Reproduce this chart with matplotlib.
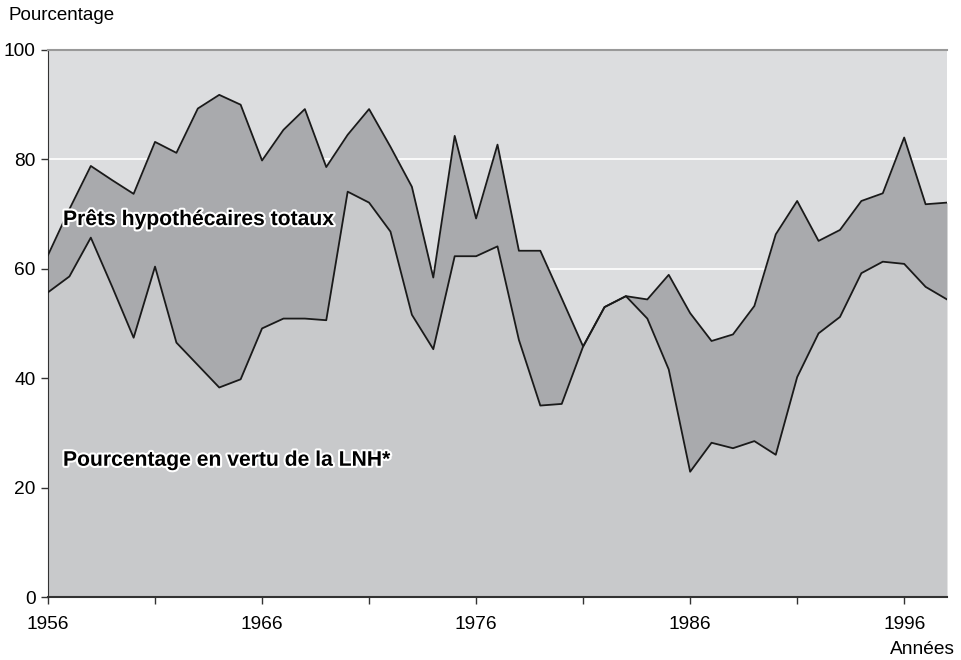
import numpy as np
import matplotlib
matplotlib.use('Agg')
import matplotlib.pyplot as plt
import matplotlib.patheffects as pe

plt.rcParams['font.family'] = ['Liberation Sans', 'DejaVu Sans']

# data
years = list(range(1956, 1999))
total = [62.5, 70.9, 78.8, 76.2, 73.7, 83.2, 81.2, 89.3, 91.8, 90.0,
         79.8, 85.4, 89.2, 78.6, 84.5, 89.2, 82.3, 75.0, 58.4, 84.3,
         69.2, 82.7, 63.3, 63.3, 54.6, 45.8, 53.0, 55.0, 54.4, 58.9,
         51.9, 46.8, 48.0, 53.2, 66.3, 72.4, 65.1, 67.1, 72.4, 73.8,
         84.0, 71.8, 72.1]
lnh = [55.7, 58.6, 65.7, 56.7, 47.4, 60.4, 46.5, 42.4, 38.3, 39.8,
       49.1, 50.9, 50.9, 50.6, 74.1, 72.1, 66.8, 51.6, 45.3, 62.3,
       62.3, 64.1, 47.0, 35.0, 35.3, 45.8, 53.0, 55.0, 50.9, 41.6,
       22.9, 28.2, 27.2, 28.5, 26.0, 40.2, 48.2, 51.2, 59.2, 61.3,
       60.9, 56.7, 54.4]
ytick_vals = [0, 20, 40, 60, 80, 100]
xtick_labels = ['1956', '', '1966', '', '1976', '', '1986', '', '1996']

fig = plt.figure(figsize=(9.62, 6.6), dpi=100)
ax = fig.add_axes([48/962, 1 - 597/660, (947 - 48)/962, (597 - 50)/660])
ax.set_facecolor('#dcdddf')

# white gridlines sit under the fills
for v in ytick_vals[1:-1]:
    ax.axhline(v, color='white', lw=1.2, zorder=1)

ax.fill_between(years, 0, lnh, color='#c8c9cb', lw=0, zorder=2)
ax.fill_between(years, lnh, total, color='#a9aaad', lw=0, zorder=2)
ax.plot(years, total, color='#1a1a1a', lw=1.3, zorder=3)
ax.plot(years, lnh, color='#1a1a1a', lw=1.3, zorder=3)

ax.set_xlim(1956, 1998)
ax.set_ylim(0, 100)
ax.set_xticks(range(1956, 1997, 5))
ax.set_xticklabels(xtick_labels)
ax.set_yticks(ytick_vals)
ax.tick_params(labelsize=13.8, length=5, width=1, color='#333333')
ax.tick_params(axis='x', pad=9)
ax.tick_params(axis='y', pad=4)

ax.spines['right'].set_visible(False)
ax.spines['top'].set_color('#999999')
ax.spines['top'].set_linewidth(1.5)
ax.spines['left'].set_color('#333333')
ax.spines['bottom'].set_color('#333333')
ax.spines['bottom'].set_linewidth(1.5)

outline = [pe.withStroke(linewidth=3, foreground='white')]
ax.text(1956.7, 69, 'Prêts hypothécaires totaux', fontsize=15.2, fontweight='bold',
        va='center', ha='left', path_effects=outline, zorder=4)
ax.text(1956.7, 25, 'Pourcentage en vertu de la LNH*', fontsize=15.2, fontweight='bold',
        va='center', ha='left', path_effects=outline, zorder=4)

fig.text(8/962, 1 - 15/660, 'Pourcentage', fontsize=13.5, va='center', ha='left')
fig.text(955/962, 1 - 649/660, 'Années', fontsize=13.8, va='center', ha='right')

fig.savefig('out.png', dpi=100)
